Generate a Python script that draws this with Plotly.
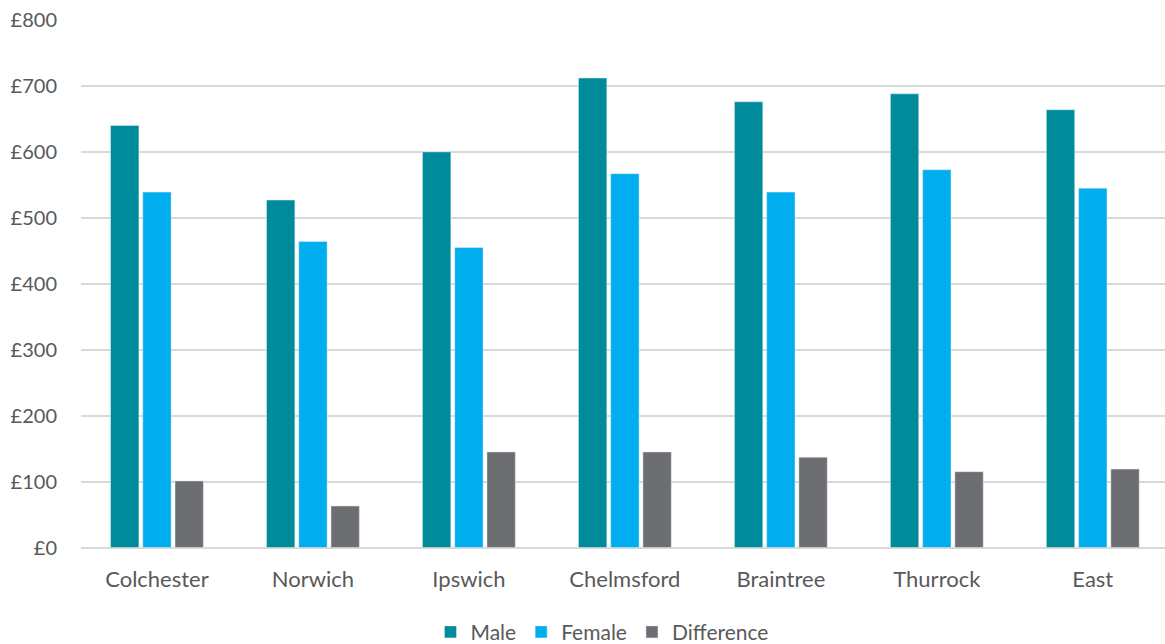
import plotly.graph_objects as go

categories = ["Colchester", "Norwich", "Ipswich", "Chelmsford", "Braintree", "Thurrock", "East"]
male = [640, 527, 600, 712, 676, 688, 664]
female = [539, 464, 455, 567, 539, 573, 545]
difference = [101, 63, 145, 145, 137, 115, 119]
y_ticks = [0, 100, 200, 300, 400, 500, 600, 700, 800]
y_tick_labels = ["£0", "£100", "£200", "£300", "£400", "£500", "£600", "£700", "£800"]

font_family = "Lato, 'Open Sans', sans-serif"
text_color = "#595959"

fig = go.Figure()
fig.add_trace(go.Bar(name="Male", x=categories, y=male, marker_color="#008B9A"))
fig.add_trace(go.Bar(name="Female", x=categories, y=female, marker_color="#00AEEF"))
fig.add_trace(go.Bar(name="Difference", x=categories, y=difference, marker_color="#6D6E71"))

fig.update_layout(
    width=1165, height=644,
    margin=dict(l=81, r=0, t=20, b=0, autoexpand=False),
    paper_bgcolor="white", plot_bgcolor="white",
    barmode="group", bargap=0.38, bargroupgap=0.12,
    font=dict(family=font_family, size=20, color=text_color),
    legend=dict(orientation="h", x=0.4806, xanchor="center", y=-0.014, yanchor="bottom",
                font=dict(size=21, color=text_color), itemwidth=30,
                traceorder="normal"),
    xaxis=dict(range=[-0.487, 6.463], showgrid=False, showline=False, zeroline=False,
               ticks="", ticklabelstandoff=16,
               tickfont=dict(size=22, color=text_color)),
    yaxis=dict(range=[0, 800], domain=[0.1546, 1.0], tickvals=y_ticks, ticktext=y_tick_labels,
               showgrid=True, gridcolor="#D9D9D9", gridwidth=1.5,
               zeroline=True, zerolinecolor="#D9D9D9", zerolinewidth=1.5,
               showline=False, ticks="", ticklabelstandoff=23,
               tickfont=dict(size=20, color=text_color)),
)

fig.write_html("out.html")
